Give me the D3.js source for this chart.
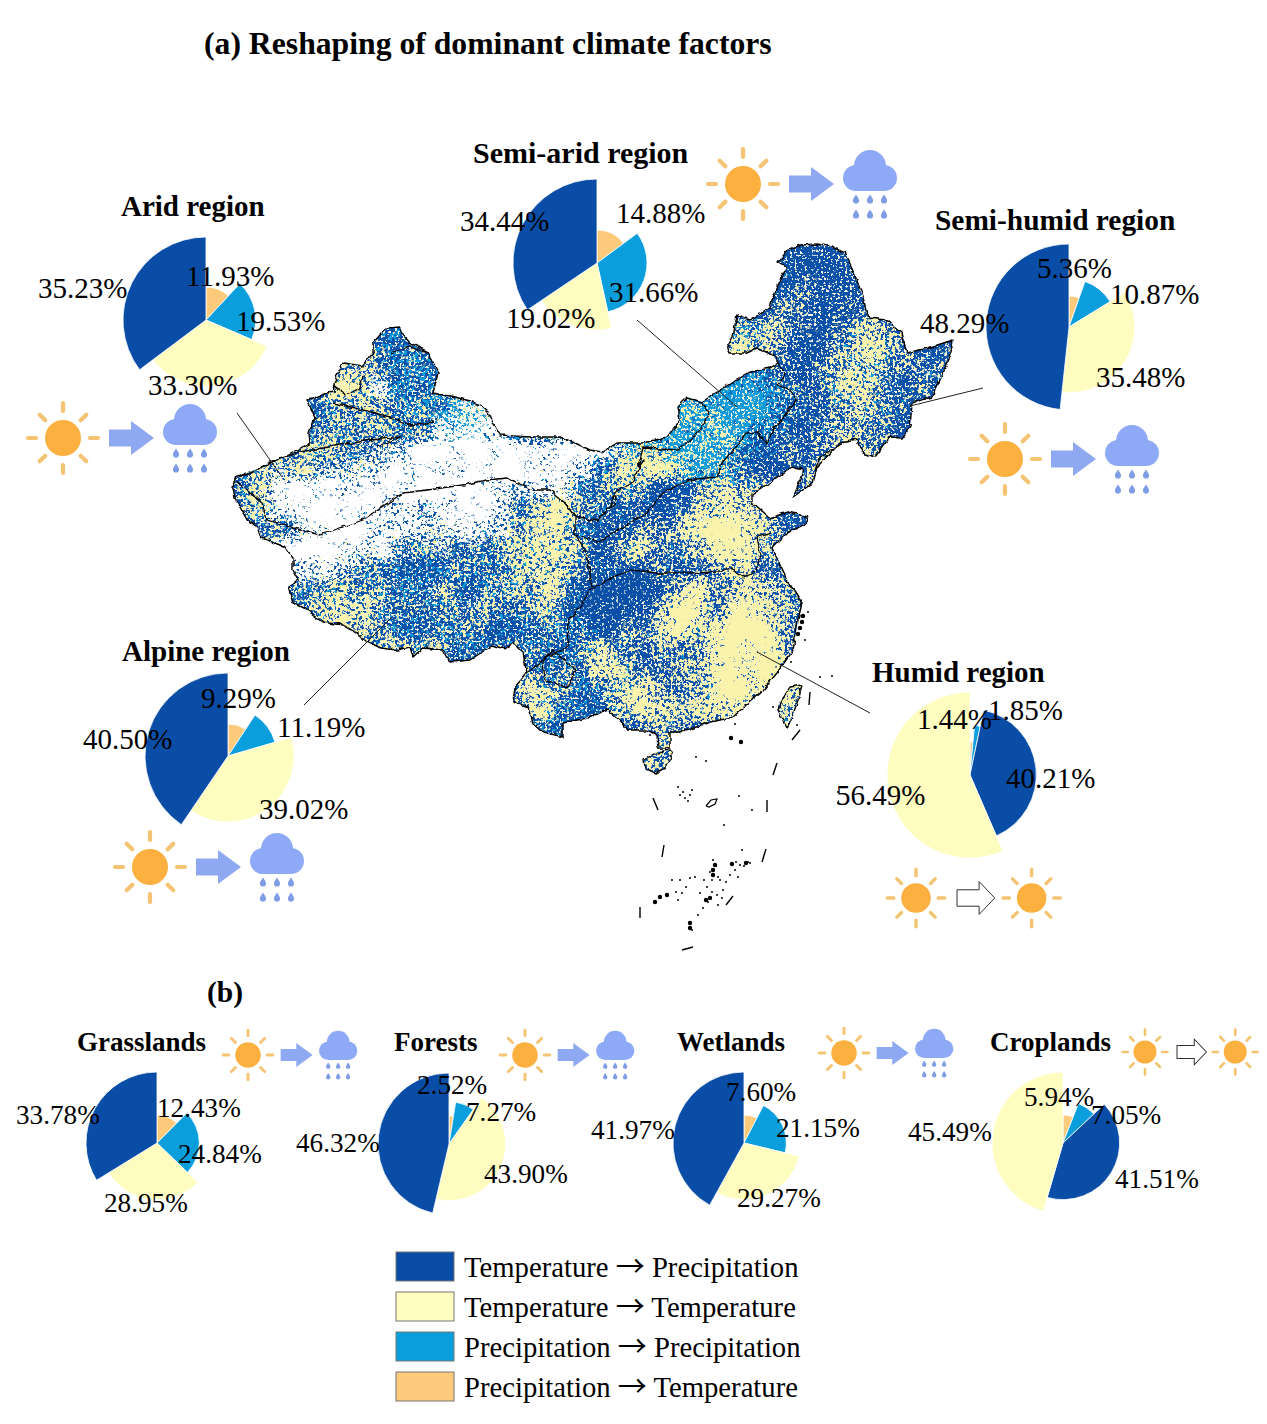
<!DOCTYPE html>
<html>
<head>
<meta charset="utf-8">
<title>Reshaping of dominant climate factors</title>
<script src="https://cdn.jsdelivr.net/npm/d3@7"></script>
<style>
  html, body { margin: 0; padding: 0; background: #fff; }
  svg { display: block; }
  text { font-family: "Liberation Serif", "Times New Roman", serif; fill: #000; }
</style>
</head>
<body>
<svg id="chart" width="1267" height="1424" viewBox="0 0 1267 1424"></svg>
<script>
// ---- Transition classes and colours ----
const classKeys = ["TP", "TT", "PP", "PT"];
const classFrom = ["Temperature", "Temperature", "Precipitation", "Precipitation"];
const classTo = ["Precipitation", "Temperature", "Precipitation", "Temperature"];
const classColors = ["#0a4da6", "#fefcbf", "#0a9fdc", "#fdca7c"];

// ---- Slice order around each pie, clockwise from twelve o'clock ----
const orderDry = ["PT", "PP", "TT", "TP"];
const orderWet = ["PT", "PP", "TP", "TT"];

// ---- Shares (%) in that order ----
const aridShares      = [11.93, 19.53, 33.30, 35.23];
const semiAridShares  = [14.88, 31.66, 19.02, 34.44];
const semiHumidShares = [5.36, 10.87, 35.48, 48.29];
const alpineShares    = [9.29, 11.19, 39.02, 40.50];
const humidShares     = [1.44, 1.85, 40.21, 56.49];
const grassShares     = [12.43, 24.84, 28.95, 33.78];
const forestShares    = [2.52, 7.27, 43.90, 46.32];
const wetlandShares   = [7.60, 21.15, 29.27, 41.97];
const cropShares      = [5.94, 7.05, 41.51, 45.49];

// ---- Layout of the pies and their text ----
const pieLayouts = [
  { name: "Arid region", shares: aridShares, order: orderDry, c: [206, 320], r: [33, 83], title: [121, 216], ts: 29,
    spots: [[186, 286], [236, 331], [148, 395], [38, 298]], fs: 29, icon: [63, 438, 1, "rain"] },
  { name: "Semi-arid region", shares: semiAridShares, order: orderDry, c: [597, 263], r: [33, 84], title: [473, 163], ts: 30,
    spots: [[616, 223], [609, 302], [506, 328], [460, 231]], fs: 29, icon: [743, 184, 1, "rain"] },
  { name: "Semi-humid region", shares: semiHumidShares, order: orderDry, c: [1069, 327], r: [31, 83], title: [935, 230], ts: 29.4,
    spots: [[1037, 278], [1110, 304], [1096, 387], [920, 333]], fs: 29, icon: [1005, 459, 1, "rain"] },
  { name: "Alpine region", shares: alpineShares, order: orderDry, c: [228, 756], r: [32, 83], title: [122, 661], ts: 29,
    spots: [[201, 708], [277, 737], [259, 819], [83, 749]], fs: 29, icon: [150, 867, 1, "rain"] },
  { name: "Humid region", shares: humidShares, order: orderWet, c: [970, 775], r: [33, 83], title: [872, 682], ts: 29,
    spots: [[917, 729], [988, 720], [1006, 788], [836, 805]], fs: 29, icon: [916, 898, 0.82, "sun"] },
  { name: "Grasslands", shares: grassShares, order: orderDry, c: [157, 1143], r: [28, 71], title: [77, 1051], ts: 27,
    spots: [[157, 1117], [178, 1163], [104, 1212], [16, 1124]], fs: 27.2, icon: [248, 1055, 0.71, "rain"] },
  { name: "Forests", shares: forestShares, order: orderDry, c: [449, 1144], r: [28, 71], title: [394, 1051], ts: 27,
    spots: [[417, 1094], [466, 1121], [484, 1183], [296, 1152]], fs: 27.2, icon: [525, 1055, 0.71, "rain"] },
  { name: "Wetlands", shares: wetlandShares, order: orderDry, c: [744, 1143], r: [28, 71], title: [677, 1051], ts: 27,
    spots: [[726, 1101], [776, 1137], [737, 1207], [591, 1139]], fs: 27.2, icon: [844, 1053, 0.71, "rain"] },
  { name: "Croplands", shares: cropShares, order: orderWet, c: [1063, 1143], r: [28, 71], title: [990, 1051], ts: 27,
    spots: [[1024, 1106], [1091, 1124], [1115, 1188], [908, 1141]], fs: 27.2, icon: [1145, 1052, 0.64, "sun"] }
];

// ---- Map outlines, in map units ----
const mainland = [[233,487],[235,478],[245,474],[255,470],[270,463],[285,457],[300,449],[310,443],[309,433],[315,417],[307,400],[316,397],[327,393],[335,392],[334,383],[338,373],[343,363],[363,366],[373,353],[373,343],[380,335],[387,328],[400,327],[403,335],[410,343],[428,352],[433,362],[438,373],[433,393],[450,396],[467,400],[480,405],[488,412],[494,425],[500,435],[530,437],[560,437],[575,443],[590,450],[602,452],[617,443],[643,443],[667,437],[680,420],[678,407],[687,398],[702,402],[717,392],[733,382],[750,372],[770,368],[778,363],[773,355],[757,348],[747,353],[730,353],[727,347],[733,337],[737,315],[750,320],[770,308],[772,300],[780,280],[787,267],[778,262],[788,250],[800,245],[817,244],[832,247],[845,253],[853,270],[863,297],[868,318],[887,320],[902,333],[907,353],[928,348],[953,340],[950,357],[940,380],[932,397],[912,403],[910,427],[902,438],[890,437],[875,457],[863,453],[857,440],[840,443],[817,467],[813,483],[793,497],[800,480],[803,470],[792,467],[773,480],[752,495],[752,502],[770,518],[788,512],[808,517],[807,523],[787,533],[772,548],[787,580],[802,603],[798,620],[793,650],[777,673],[763,690],[733,717],[707,723],[680,733],[670,733],[670,748],[658,748],[657,735],[647,730],[627,730],[620,720],[607,710],[587,718],[563,723],[563,737],[543,732],[533,723],[528,707],[513,702],[515,687],[527,673],[523,653],[513,643],[505,649],[493,645],[470,660],[450,662],[443,650],[423,648],[413,657],[410,647],[397,650],[380,648],[367,642],[357,633],[343,625],[323,622],[307,610],[293,603],[288,587],[298,580],[293,570],[293,558],[285,547],[262,538],[258,527],[247,520],[235,498],[233,487]];
const hainan = [[644,760],[657,752],[670,750],[673,753],[665,768],[655,773],[645,768],[644,760]];
const taiwan = [[780,703],[790,687],[802,685],[798,700],[790,723],[787,727],[778,710],[780,703]];

const regionBorders = [
  [[237,482],[250,493],[262,503],[267,520],[290,527],[320,535],[340,528],[363,520],[380,508],[403,493],[427,490],[463,485],[487,480],[507,478],[533,490],[550,490],[565,503],[575,517],[575,535],[587,553],[592,587],[580,607],[568,620],[567,647],[547,657],[527,673]],
  [[575,535],[597,542],[615,532],[647,513],[663,493],[687,480],[717,477],[722,463],[747,433],[757,432],[767,443],[773,430],[797,400],[790,390],[777,385],[785,375],[778,363]],
  [[702,403],[710,412],[700,430],[690,440],[678,450],[643,448],[638,467],[643,460],[632,483],[615,493],[610,507],[597,521],[575,517]],
  [[592,590],[613,577],[633,570],[657,573],[687,573],[720,572],[730,568],[743,577],[757,570],[760,553],[757,537],[772,533]],
  [[543,663],[553,650],[575,670],[568,688],[545,680],[543,663]],
  [[610,507],[613,495],[617,495],[615,505],[610,507]],
  [[815,470],[820,457],[843,443]],
  [[270,463],[300,452],[340,445],[370,440],[400,437],[377,447]],
  [[333,403],[363,410],[390,417],[410,425],[433,422]],
  [[390,353],[410,347],[427,353]],
  [[333,385],[347,395],[360,388],[363,375]]
];

const seaDashes = [
  [[792,740],[800,730]], [[810,692],[809,705]], [[773,775],[777,763]], [[653,798],[658,810]],
  [[767,800],[767,812]], [[662,857],[664,845]], [[762,862],[766,849]], [[640,907],[640,918]],
  [[726,905],[733,896]], [[682,950],[693,947]]
];
const smallIslands = [[696,757],[706,761],[739,796],[752,810],[724,825],[680,795],[690,795],[678,787],[692,790],[685,798],[683,792],[688,801],[713,860],[732,865],[740,865],[748,862],[750,863],[744,866],[736,862],[738,877],[730,875],[720,880],[707,887],[700,893],[680,880],[690,878],[695,877],[682,893],[678,900],[717,895],[723,890],[718,905],[698,915],[703,908],[742,850],[820,677],[832,676],[773,707],[797,725],[838,792],[838,803],[692,930],[808,612],[805,640],[791,662],[735,724],[650,735],[716,866],[710,872],[718,877],[712,880],[726,882],[735,870],[704,880],[712,892],[708,902],[722,898],[686,887],[676,892],[672,880]];
const largeIslands = [[731,738],[741,742],[713,870],[713,875],[715,865],[655,902],[660,897],[667,895],[710,898],[706,900],[690,923],[690,928],[802,622],[803,616],[800,628],[798,634],[732,864],[746,863]];
const reefRings = [[[706,806],[711,800],[717,799],[715,804],[709,807],[706,806]]];

const coverRows = [
"99999 99999 99999 99999 99999 99999 99999 99","99999 99999 99999 99999 99999 99999 99999 99",
"99999 99999 99999 99999 99999 99999 99999 99","99999 99999 99999 99999 99999 99999 99999 99",
"99999 99999 99999 99999 99999 99999 99999 99","99999 99999 99999 99999 99999 99999 99999 99",
"99999 77699 89999 99999 99999 99999 99999 99","99999 78379 83999 99999 99999 99999 99999 99",
"99999 88888 75429 99999 99999 99999 99999 99","99999 99887 33329 99999 99999 99999 99999 99",
"99988 87531 11111 21116 89999 99999 99999 99","97665 43311 11111 11378 99999 99999 99999 99",
"87100 00111 11123 23699 99999 99999 99999 99","77311 22233 21138 99999 99999 99999 99999 99",
"96642 11233 33248 99999 99999 99999 99999 99","99111 22256 67788 99999 99999 99999 99999 99",
"99933 46788 99999 99999 99999 99999 99999 99","99967 88899 99999 99999 99999 99999 99999 99"
];
const yellowRows = [
"11111 11111 11111 11111 11111 11111 11222 22","11111 11111 11111 11111 11111 11111 14222 22",
"11111 11111 11111 11111 11111 11132 13322 22","11111 11111 11111 11111 11111 11331 22322 22",
"22222 22222 22222 22222 22222 54521 35533 22","22222 22222 22222 22222 22222 64312 45543 21",
"33333 55322 22222 22222 22222 22313 55523 32","33333 65322 22222 22222 22221 11222 55423 21",
"33333 44433 33322 22222 22432 22223 35322 22","33333 44433 22222 22222 21235 31213 44311 11",
"33344 43322 22222 22224 55333 21233 65422 22","34553 33222 22222 22125 66423 32225 55522 22",
"36322 22222 22221 16234 40145 44326 22222 22","34333 22222 22223 67431 21366 65322 22222 22",
"33333 33333 33334 66312 34567 75311 22222 22","33333 33333 33345 55415 73347 75411 22222 22",
"33333 33311 13235 55311 13235 53322 22222 22","33324 43433 42244 55100 02563 66422 22222 22",
"33335 65422 33523 43100 14773 76433 22222 22","44445 55421 43212 33213 36746 88533 22222 22",
"44444 46454 42133 21363 34347 88633 22222 22","44444 44444 43333 34355 32447 77644 44444 44",
"44444 44444 44444 53135 64357 76644 44444 44","44444 44444 44444 63214 65456 66544 44444 44",
"44444 44444 44444 31233 34433 44544 44444 44","44444 44444 44444 44444 44444 44344 44444 44",
"44444 44444 44444 44444 44444 44344 44444 44"
];
const cyanRows = [
"22222 22222 22222 22222 22222 22211 12222 22","22222 22222 22222 22222 22222 22211 12222 22",
"22222 22222 22222 22222 22222 22211 12222 22","22222 22222 22222 22222 22222 22211 12222 22",
"33333 33344 33333 33333 33333 43211 13222 22","33333 33344 33333 33333 33333 43211 23322 22",
"33333 33344 43333 33333 33334 44212 33322 22","33333 33344 44433 33333 33336 77422 33322 22",
"33333 33344 57753 33333 44778 77522 33322 22","33333 33333 57733 33333 67787 75322 22222 22",
"33333 33333 44433 33344 66787 42222 22222 22","33333 33333 33333 33333 44676 42222 22222 22",
"33333 33333 33333 33333 31223 22222 22222 22","33333 33333 33333 33333 21222 22222 22222 22",
"33333 33333 33333 33322 22222 22222 22222 22","33333 33333 33333 33322 22222 22222 22222 22",
"33333 33333 33333 33322 22222 22222 22222 22","33333 33333 33333 33211 11222 22222 22222 22",
"33333 33333 33333 33311 11222 22222 22222 22","33333 33333 33333 33322 22222 22222 22222 22",
"33333 33333 33333 33333 22222 22222 22222 22","33333 33333 33333 33333 22222 22222 22222 22",
"33333 33333 33333 33333 22222 22222 22222 22","33333 33333 33333 33333 22222 22222 22222 22",
"33333 33333 33333 33333 22222 22222 22222 22","33333 33333 33333 33333 22222 22222 22222 22",
"33333 33333 33333 33333 22222 22222 22222 22"
];

const leaderLines = [
  [[237,413],[282,477]], [[637,320],[737,407]], [[983,388],[910,406]],
  [[304,705],[392,617]], [[870,713],[757,652]]
];

const svg = d3.select("#chart");
const defs = svg.append("defs");
const colorOf = d3.scaleOrdinal().domain(classKeys).range(classColors);

// ---- Map: a planar projection of the outline coordinates ----
const mapProjection = d3.geoIdentity();
const mapPath = d3.geoPath(mapProjection);
const landShape = { type: "MultiPolygon", coordinates: [[mainland], [hainan], [taiwan]] };

defs.append("clipPath").attr("id", "land-clip").append("path").attr("d", mapPath(landShape));

// Speckle filter: the blurred share field gets a contrast curve, is compared with
// fine grain plus broad patches of fractal noise, then thresholded, so the grain
// coverage of each class follows its share and clumps into patches.
function speckleFilter(o) {
  const f = defs.append("filter").attr("id", o.id)
    .attr("filterUnits", "userSpaceOnUse")
    .attr("x", 220).attr("y", 230).attr("width", 760).attr("height", 560)
    .attr("color-interpolation-filters", "sRGB");
  f.append("feGaussianBlur").attr("in", "SourceAlpha").attr("stdDeviation", o.blur).attr("result", "soft");
  const curve = f.append("feComponentTransfer").attr("in", "soft").attr("result", "field");
  curve.append("feFuncA").attr("type", "linear").attr("slope", o.gain).attr("intercept", o.lift);
  const stretch = "0 0 0 0 0  0 0 0 0 0  0 0 0 0 0  0 0 0 3.2 -1.1";
  f.append("feTurbulence").attr("type", "fractalNoise").attr("baseFrequency", o.freq)
    .attr("numOctaves", 2).attr("seed", o.seed).attr("result", "fineRaw");
  f.append("feColorMatrix").attr("in", "fineRaw").attr("type", "matrix").attr("values", stretch).attr("result", "fine");
  f.append("feTurbulence").attr("type", "fractalNoise").attr("baseFrequency", 0.05)
    .attr("numOctaves", 2).attr("seed", o.seed + 1).attr("result", "broadRaw");
  f.append("feColorMatrix").attr("in", "broadRaw").attr("type", "matrix").attr("values", stretch).attr("result", "broad");
  f.append("feComposite").attr("in", "fine").attr("in2", "broad").attr("operator", "arithmetic")
    .attr("k1", 0).attr("k2", o.mix).attr("k3", 1 - o.mix).attr("k4", 0).attr("result", "grain");
  f.append("feComposite").attr("in", "field").attr("in2", "grain").attr("operator", "arithmetic")
    .attr("k1", 0).attr("k2", 1).attr("k3", 1).attr("k4", -1).attr("result", "sum");
  const tr = f.append("feComponentTransfer").attr("in", "sum").attr("result", "mask");
  tr.append("feFuncA").attr("type", "linear").attr("slope", 6).attr("intercept", 0);
  f.append("feFlood").attr("flood-color", o.color).attr("result", "ink");
  f.append("feComposite").attr("in", "ink").attr("in2", "mask").attr("operator", "in");
}
speckleFilter({ id: "grain-cyan", color: "#0f9adb", blur: 7, gain: 1.5, lift: -0.18, freq: 0.27, mix: 0.78, seed: 11 });
speckleFilter({ id: "grain-pale", color: "#f1f8df", blur: 6, gain: 1.0, lift: 0.03, freq: 0.42, mix: 0.88, seed: 23 });
speckleFilter({ id: "grain-yellow", color: "#f9f3ac", blur: 6, gain: 1.4, lift: -0.15, freq: 0.27, mix: 0.72, seed: 5 });
speckleFilter({ id: "grain-bare", color: "#ffffff", blur: 5, gain: 1.3, lift: -0.12, freq: 0.33, mix: 0.75, seed: 37 });

// Slight waviness for the traced boundary lines.
const wiggle = defs.append("filter").attr("id", "wiggle")
  .attr("filterUnits", "userSpaceOnUse").attr("x", 220).attr("y", 230).attr("width", 760).attr("height", 560);
wiggle.append("feTurbulence").attr("type", "fractalNoise").attr("baseFrequency", 0.14)
  .attr("numOctaves", 2).attr("seed", 3).attr("result", "warp");
wiggle.append("feDisplacementMap").attr("in", "SourceGraphic").attr("in2", "warp")
  .attr("scale", 5).attr("xChannelSelector", "R").attr("yChannelSelector", "G");

const gridCols = d3.range(37), gridRows = d3.range(27);
const gridX = d3.scaleBand().domain(gridCols).range([230, 970]);
const gridY = d3.scaleBand().domain(gridRows).range([240, 780]);
const shareScale = d3.scaleLinear().domain([0, 9]).range([0, 1]);

function parseGrid(rows) {
  const cells = [];
  rows.forEach((row, j) => {
    row.replace(/ /g, "").split("").forEach((ch, i) => cells.push({ i, j, v: +ch }));
  });
  return cells;
}
function drawField(parent, rows, filterId, toOpacity) {
  parent.append("g").attr("filter", `url(#${filterId})`)
    .selectAll("rect").data(parseGrid(rows)).join("rect")
    .attr("x", d => gridX(d.i)).attr("y", d => gridY(d.j))
    .attr("width", gridX.bandwidth()).attr("height", gridY.bandwidth())
    .attr("fill", "#000").attr("fill-opacity", toOpacity);
}

const mapLayer = svg.append("g");
const landGrain = mapLayer.append("g").attr("clip-path", "url(#land-clip)");
landGrain.append("rect").attr("x", 220).attr("y", 230).attr("width", 760).attr("height", 560).attr("fill", "#0b50a8");
drawField(landGrain, cyanRows, "grain-cyan", d => shareScale(d.v));
drawField(landGrain, yellowRows, "grain-pale", d => 0.15 + 0.55 * shareScale(d.v));
drawField(landGrain, yellowRows, "grain-yellow", d => shareScale(d.v));
drawField(landGrain, coverRows, "grain-bare", d => 1 - shareScale(d.v));

const inkLines = mapLayer.append("g").attr("filter", "url(#wiggle)");
inkLines.append("path").attr("d", mapPath(landShape)).attr("fill", "none").attr("stroke", "#000").attr("stroke-width", 1.4).attr("stroke-linejoin", "round");
inkLines.selectAll("path.border").data(regionBorders).join("path").attr("class", "border")
  .attr("d", d => mapPath({ type: "LineString", coordinates: d }))
  .attr("fill", "none").attr("stroke", "#000").attr("stroke-width", 1.3).attr("stroke-linejoin", "round");
mapLayer.selectAll("path.dash").data(seaDashes).join("path").attr("class", "dash")
  .attr("d", d => mapPath({ type: "LineString", coordinates: d }))
  .attr("fill", "none").attr("stroke", "#000").attr("stroke-width", 1.4);
mapLayer.selectAll("path.reef").data(reefRings).join("path").attr("class", "reef")
  .attr("d", d => mapPath({ type: "LineString", coordinates: d }))
  .attr("fill", "none").attr("stroke", "#000").attr("stroke-width", 1.2);
mapLayer.append("path").attr("d", d3.geoPath(mapProjection).pointRadius(1)({ type: "MultiPoint", coordinates: smallIslands })).attr("fill", "#000");
mapLayer.append("path").attr("d", d3.geoPath(mapProjection).pointRadius(2.2)({ type: "MultiPoint", coordinates: largeIslands })).attr("fill", "#000");

svg.append("g").selectAll("path").data(leaderLines).join("path")
  .attr("d", d => mapPath({ type: "LineString", coordinates: d }))
  .attr("fill", "none").attr("stroke", "#222").attr("stroke-width", 1);

// ---- Pies: every slice reaches further than the one before it ----
const pieGen = d3.pie().sort(null).value(d => d.share);
pieLayouts.forEach(p => {
  const items = p.shares.map((share, k) => ({ share, key: p.order[k], k }));
  const reach = d3.scaleLinear().domain([0, 3]).range(p.r);
  const arcGen = d3.arc().innerRadius(0).outerRadius(d => reach(d.data.k));
  const g = svg.append("g").attr("transform", `translate(${p.c[0]},${p.c[1]})`);
  g.selectAll("path").data(pieGen(items)).join("path")
    .attr("d", arcGen).attr("fill", d => colorOf(d.data.key))
    .attr("stroke", "#fff").attr("stroke-width", 0.8);
});

// ---- Weather icons ----
const sunColor = "#fbb040", rayColor = "#f4c474", rainColor = "#8ea9f5", dropColor = "#7f9de6";
const dropPath = "M0,-4.6 C1.1,-2.4 3.1,-0.8 3.1,1.4 A3.1,3.1 0 0 1 -3.1,1.4 C-3.1,-0.8 -1.1,-2.4 0,-4.6 Z";

function drawSun(g, dx) {
  const s = g.append("g").attr("transform", `translate(${dx},0)`);
  s.append("circle").attr("r", 18).attr("fill", sunColor);
  d3.range(8).forEach(k => {
    const a = k * Math.PI / 4;
    const near = k % 2 ? 25 : 27, far = k % 2 ? 33 : 35;
    s.append("line")
      .attr("x1", near * Math.cos(a)).attr("y1", near * Math.sin(a))
      .attr("x2", far * Math.cos(a)).attr("y2", far * Math.sin(a))
      .attr("stroke", rayColor).attr("stroke-width", 4.2).attr("stroke-linecap", "round");
  });
}
function drawRain(g, cx) {
  const c = g.append("g").attr("transform", `translate(${cx},0)`).attr("fill", rainColor);
  c.append("rect").attr("x", -27).attr("y", -19).attr("width", 54).attr("height", 26).attr("rx", 13);
  c.append("circle").attr("cx", 0).attr("cy", -18).attr("r", 16);
  [-14, 0, 14].forEach(x => [15, 30].forEach(y => {
    c.append("path").attr("d", dropPath).attr("transform", `translate(${x},${y})`).attr("fill", dropColor);
  }));
}
const iconLayer = svg.append("g");
pieLayouts.forEach(p => {
  const [x, y, s, after] = p.icon;
  const g = iconLayer.append("g").attr("transform", `translate(${x},${y}) scale(${s})`);
  drawSun(g, 0);
  if (after === "rain") {
    g.append("path").attr("d", "M46,-8.5 L68,-8.5 L68,-17 L91,0 L68,17 L68,8.5 L46,8.5 Z").attr("fill", "#8fa8f2");
    drawRain(g, 127);
  } else {
    g.append("path").attr("d", "M50,-10 L77,-10 L77,-20 L96,0 L77,20 L77,10 L50,10 Z")
      .attr("fill", "#fff").attr("stroke", "#333").attr("stroke-width", 1 / s);
    drawSun(g, 141);
  }
});

// ---- Text on top of everything ----
const textLayer = svg.append("g");
pieLayouts.forEach(p => {
  textLayer.append("text").attr("x", p.title[0]).attr("y", p.title[1])
    .attr("font-size", p.ts).attr("font-weight", "bold").text(p.name);
  p.shares.forEach((share, k) => {
    textLayer.append("text").attr("x", p.spots[k][0]).attr("y", p.spots[k][1])
      .attr("font-size", p.fs).text(share.toFixed(2) + "%");
  });
});
textLayer.append("text").attr("x", 204).attr("y", 54).attr("font-size", 31.7).attr("font-weight", "bold")
  .text("(a) Reshaping of dominant climate factors");
textLayer.append("text").attr("x", 207).attr("y", 1002).attr("font-size", 29.5).attr("font-weight", "bold").text("(b)");

// ---- Legend ----
const legendY = d3.scalePoint().domain(classKeys).range([1252, 1372]);
const legend = svg.append("g");
legend.selectAll("rect").data(classKeys).join("rect")
  .attr("x", 396).attr("y", d => legendY(d)).attr("width", 58).attr("height", 29)
  .attr("fill", d => colorOf(d)).attr("stroke", "#777").attr("stroke-width", 1);
const legendText = legend.selectAll("text").data(classKeys).join("text")
  .attr("x", 464).attr("y", d => legendY(d) + 25).attr("font-size", 28.7);
legendText.append("tspan").text((d, i) => classFrom[i] + " ");
legendText.append("tspan").attr("font-family", "Noto Sans CJK SC").attr("font-size", 29).text("\u2192");
legendText.append("tspan").text((d, i) => " " + classTo[i]);
</script>
</body>
</html>
